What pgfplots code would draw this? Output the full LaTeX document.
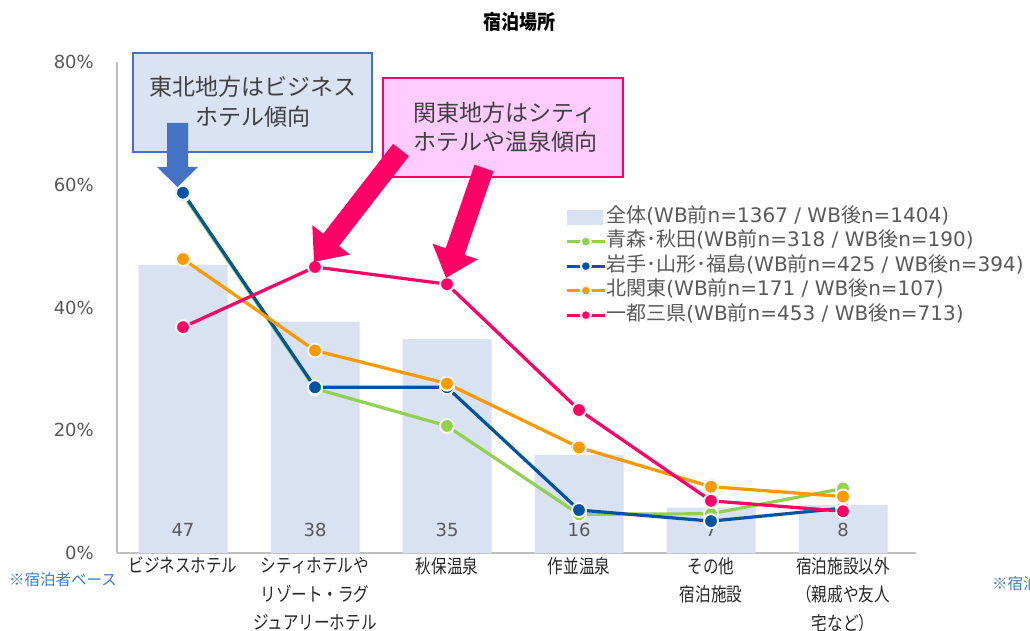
\documentclass[border=0pt]{standalone}
\usepackage{fontspec}
\usepackage{pgfplots}
\usepackage{pgfplotstable}
\pgfplotsset{compat=1.18}
\usetikzlibrary{arrows.meta}
\setmainfont{DejaVu Sans}
\newfontfamily\cjk{Noto Sans CJK JP}
\newfontfamily\cjkc[FakeStretch=0.82]{Noto Sans CJK JP}
\newfontfamily\cjkt[FakeStretch=0.9]{Noto Sans CJK JP}
\newcommand\J[1]{{\cjk #1}}
\definecolor{barc}{HTML}{D9E2F3}
\definecolor{grn}{HTML}{92D050}
\definecolor{blu}{HTML}{0052A3}
\definecolor{org}{HTML}{FF9900}
\definecolor{pnk}{HTML}{FF0066}
\definecolor{txt}{HTML}{595959}
\definecolor{axc}{HTML}{BFBFBF}
\definecolor{cb}{HTML}{4472C4}
\definecolor{cbf}{HTML}{DAE3F3}
\definecolor{cpf}{HTML}{FFCCFF}
\definecolor{note}{HTML}{3A7DC9}
\definecolor{ring}{HTML}{F4F4F4}

\pgfplotstableread{
x bar lab
0 46.9 47
1 37.7 38
2 34.9 35
3 16.0 16
4 7.4 7
5 7.8 8
}\bars
\pgfplotstableread{
x y
0 58.4
1 26.8
2 20.7
3 6.3
4 6.4
5 10.5
}\green
\pgfplotstableread{
x y
0 58.7
1 27.0
2 27.0
3 7.0
4 5.2
5 7.3
}\blue
\pgfplotstableread{
x y
0 47.9
1 33.0
2 27.6
3 17.2
4 10.8
5 9.2
}\orange
\pgfplotstableread{
x y
0 36.8
1 46.6
2 43.8
3 23.3
4 8.5
5 6.8
}\pink

\pgfplotsset{
  lineplot/.style={color=#1, line width=3.2pt, mark=*, mark size=7pt,
    mark options={fill=#1, draw=ring, line width=2pt},
    legend image code/.code={\draw[##1, mark size=5pt, mark repeat=2, mark phase=2] plot coordinates {(0pt,0pt) (19pt,0pt) (38pt,0pt)};}},
}

\begin{document}
\begin{tikzpicture}
\useasboundingbox (0pt,0pt) rectangle (1030pt,-631pt);
\begin{axis}[
  at={(117pt,-553pt)}, anchor=south west,
  scale only axis, width=798.6pt, height=491pt,
  xmin=-0.5, xmax=5.55, ymin=0, ymax=80,
  clip=false,
  axis x line*=bottom, axis y line*=left,
  axis line style={draw=axc, line width=1.3pt, -},
  major tick length=0pt,
  xtick={0,1,2,3,4,5},
  xticklabels={{ビジネスホテル},{シティホテルや\\リゾート・ラグ\\ジュアリーホテル},{秋保温泉},{作並温泉},{その他\\宿泊施設},{宿泊施設以外\\（親戚や友人\\宅など）}},
  xticklabel style={anchor=north, inner sep=0pt, yshift=-4pt, align=center, text=black!85,
    font=\cjkc\fontsize{19}{28.5}\selectfont},
  ytick={0,20,40,60,80},
  yticklabel={\pgfmathprintnumber{\tick}\%},
  yticklabel style={anchor=east, inner sep=0pt, xshift=-23pt, text=txt,
    font=\fontsize{18}{20}\selectfont},
  /pgf/number format/assume math mode=true,
  legend style={at={(0.561,0.7048)}, anchor=north west, draw=none, fill=none,
    inner sep=0pt, row sep=4.5pt,
    font=\fontsize{20}{22}\selectfont, text=txt,
    nodes={inner sep=0pt, text height=15pt, text depth=5pt},
    /tikz/every even column/.append style={column sep=8pt}},
  legend cell align=left,
]
\addplot[ybar, bar width=89pt, fill=barc, draw=none,
  legend image code/.code={\fill[barc] (0pt,-7.5pt) rectangle (36pt,7.5pt);}]
  table[x=x, y=bar] {\bars};
\addlegendentry{\J{全体}(WB\J{前}n=1367 /  WB\J{後}n=1404)}
\addplot[draw=none, forget plot, nodes near coords, point meta=\thisrow{lab},
  nodes near coords style={font=\fontsize{18}{20}\selectfont, text=txt, inner sep=0pt, anchor=south}]
  table[x=x, y expr=2.6] {\bars};
\addplot[lineplot=grn] table {\green};
\addlegendentry{\J{青森･秋田}(WB\J{前}n=318 / WB\J{後}n=190)}
\addplot[lineplot=blu] table {\blue};
\addlegendentry{\J{岩手･山形･福島}(WB\J{前}n=425 / WB\J{後}n=394)}
\addplot[lineplot=org] table {\orange};
\addlegendentry{\J{北関東}(WB\J{前}n=171 / WB\J{後}n=107)}
\addplot[lineplot=pnk] table {\pink};
\addlegendentry{\J{一都三県}(WB\J{前}n=453 / WB\J{後}n=713)}
\end{axis}
\begin{scope}[x=1pt,y=-1pt]
  % title
  \node[font=\cjkt\bfseries\fontsize{20}{24}\selectfont] at (519,22) {宿泊場所};
  % callout 1
  \draw[draw=cb, line width=2pt, fill=cbf] (133,53) rectangle (372,152);
  \node[align=center, text=black!75, font=\cjk\fontsize{23}{30}\selectfont] at (252.5,102) {東北地方はビジネス\\ホテル傾向};
  \fill[cb] (167,123) -- (188,123) -- (188,167) -- (198,167) -- (177.5,187) -- (157,167) -- (167,167) -- cycle;
  % callout 2
  \draw[draw=pnk, line width=2pt, fill=cpf] (383,78) rectangle (623,177);
  \node[align=center, text=black!75, font=\cjk\fontsize{23}{29.5}\selectfont] at (505,127.5) {関東地方はシティ\\ホテルや温泉傾向};
  \draw[pnk, line width=20pt, -{Triangle[width=46pt, length=28pt]}] (401,150) -- (314,262);
  \draw[pnk, line width=20pt, -{Triangle[width=46pt, length=28pt]}] (484,168) -- (446,278);
  % notes
  \node[anchor=west, inner sep=0pt, text=note, font=\cjk\fontsize{15.5}{18}\selectfont] at (9,580) {※宿泊者ベース};
  \node[anchor=west, inner sep=0pt, text=note, font=\cjk\fontsize{15.5}{18}\selectfont] at (992,584) {※宿泊者ベース};
\end{scope}
\end{tikzpicture}
\end{document}
